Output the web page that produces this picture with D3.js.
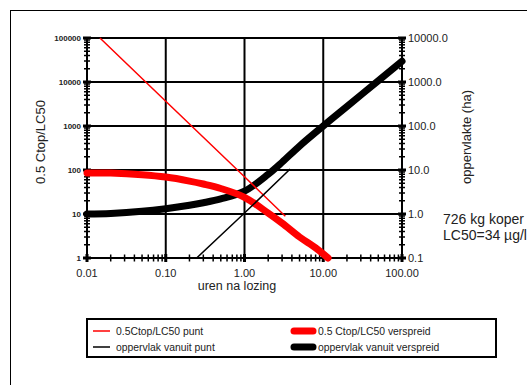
<!DOCTYPE html>
<html lang="en">
<head>
  <meta charset="UTF-8">
  <title>Chart</title>
  <style>
    body{margin: 0; background: #fff;}
    svg{display: block; font-family: Arial, "Liberation Sans", sans-serif;}
  </style>
</head>
<body>
  <div id="chart-wrapper"></div>
  <script src="https://d3js.org/d3.v7.min.js"></script>
  <script>
  // DATA
  const xTicks = [0.01, 0.1, 1, 10, 100];
  const xTickLabels = ["0.01", "0.10", "1.00", "10.00", "100.00"];
  const leftTicks = [1, 10, 100, 1000, 10000, 100000];
  const leftTickLabels = ["1", "10", "100", "1000", "10000", "100000"];
  const rightTicks = [0.1, 1, 10, 100, 1000, 10000];
  const rightTickLabels = ["0.1", "1.0", "10.0", "100.0", "1000.0", "10000.0"];

  // 0.5Ctop/LC50 punt (left axis)
  const redPuntX = [0.0146, 0.1, 1, 3.3];
  const redPuntY = [100000, 3660, 70, 8.9];
  // 0.5 Ctop/LC50 verspreid (left axis)
  const redSpreadX = [0.01, 0.02, 0.05, 0.1, 0.2, 0.3, 0.5, 1, 2, 3, 5, 8, 11.5];
  const redSpreadY = [86, 85, 78, 69, 56, 48, 38, 24, 10.5, 6.2, 3, 1.7, 1];
  // oppervlak vanuit punt (right axis)
  const blackPuntX = [0.247, 1, 3.8];
  const blackPuntY = [0.1, 1.05, 10.5];
  // oppervlak vanuit verspreid (right axis)
  const blackSpreadX = [0.01, 0.02, 0.05, 0.1, 0.2, 0.3, 0.5, 1, 2, 3, 5, 10, 20, 50, 100];
  const blackSpreadY = [1.0, 1.03, 1.15, 1.32, 1.58, 1.8, 2.2, 3.3, 8, 15, 35, 100, 278, 1070, 2950];

  const legendNames = ["0.5Ctop/LC50 punt", "0.5 Ctop/LC50 verspreid", "oppervlak vanuit punt", "oppervlak vanuit verspreid"];
  const noteLines = ["726 kg koper", "LC50=34 µg/l"];

  // CONSTANTS
  const width = 527;
  const height = 385;
  const plot = {left: 87, right: 402, top: 38, bottom: 258};
  const cred = "#ff0000";
  const cdark = "#000000";
  const ctext = "#222222";

  const svg = d3.select("#chart-wrapper").append("svg")
    .attr("width", width)
    .attr("height", height);

  // outer frame (runs off the right and bottom)
  svg.append("rect")
    .attr("x", 10.5).attr("y", 10.5)
    .attr("width", 600).attr("height", 500)
    .attr("fill", "none").attr("stroke", cdark).attr("stroke-width", 1);

  // SCALES
  const x = d3.scaleLog().domain([0.01, 100]).range([plot.left, plot.right]);
  const yL = d3.scaleLog().domain([1, 100000]).range([plot.bottom, plot.top]);
  const yR = d3.scaleLog().domain([0.1, 10000]).range([plot.bottom, plot.top]);

  // GRID
  const grid = svg.append("g").attr("stroke", cdark).attr("stroke-width", 2);
  grid.selectAll(".gx").data(xTicks).join("line")
    .attr("x1", d => x(d)).attr("x2", d => x(d))
    .attr("y1", plot.top).attr("y2", plot.bottom);
  grid.selectAll(".gy").data(leftTicks).join("line")
    .attr("x1", plot.left).attr("x2", plot.right)
    .attr("y1", d => yL(d)).attr("y2", d => yL(d));

  // MINOR TICKS
  function minors(lo, hi) {
    const out = [];
    for (let p = lo; p < hi; p *= 10) for (let k = 2; k <= 9; k++) out.push(p * k);
    return out;
  }
  const ticks = svg.append("g").attr("stroke", cdark).attr("stroke-width", 1.5);
  ticks.selectAll(".tx").data(minors(0.01, 100)).join("line")
    .attr("x1", d => x(d)).attr("x2", d => x(d))
    .attr("y1", plot.bottom - 3.5).attr("y2", plot.bottom + 3.5);
  ticks.selectAll(".tl").data(minors(1, 100000)).join("line")
    .attr("x1", plot.left - 3).attr("x2", plot.left + 3)
    .attr("y1", d => yL(d)).attr("y2", d => yL(d));
  ticks.selectAll(".tr").data(minors(0.1, 10000)).join("line")
    .attr("x1", plot.right - 3).attr("x2", plot.right + 3)
    .attr("y1", d => yR(d)).attr("y2", d => yR(d));
  // major ticks
  const major = svg.append("g").attr("stroke", cdark).attr("stroke-width", 3);
  major.selectAll(".ml").data(leftTicks).join("line")
    .attr("x1", plot.left - 4).attr("x2", plot.left + 4)
    .attr("y1", d => yL(d)).attr("y2", d => yL(d));
  major.selectAll(".mr").data(rightTicks).join("line")
    .attr("x1", plot.right - 4).attr("x2", plot.right + 4)
    .attr("y1", d => yR(d)).attr("y2", d => yR(d));
  major.selectAll(".mx").data(xTicks).join("line")
    .attr("x1", d => x(d)).attr("x2", d => x(d))
    .attr("y1", plot.bottom - 4).attr("y2", plot.bottom + 4);

  // TICK LABELS
  svg.append("g").attr("font-size", 8).attr("font-weight", "bold").attr("fill", ctext)
    .attr("text-anchor", "end")
    .selectAll("text").data(leftTicks).join("text")
    .attr("x", plot.left - 6).attr("y", d => yL(d) + 3)
    .text((d, i) => leftTickLabels[i]);
  svg.append("g").attr("font-size", 11).attr("fill", ctext)
    .selectAll("text").data(rightTicks).join("text")
    .attr("x", plot.right + 6).attr("y", d => yR(d) + 4)
    .text((d, i) => rightTickLabels[i]);
  svg.append("g").attr("font-size", 11).attr("fill", ctext)
    .attr("text-anchor", "middle")
    .selectAll("text").data(xTicks).join("text")
    .attr("x", d => x(d)).attr("y", 277)
    .text((d, i) => xTickLabels[i]);

  // AXIS TITLES
  svg.append("text").attr("font-size", 13).attr("fill", ctext)
    .attr("text-anchor", "middle")
    .attr("transform", "translate(45,142) rotate(-90)")
    .text("0.5 Ctop/LC50");
  svg.append("text").attr("font-size", 13).attr("fill", ctext)
    .attr("text-anchor", "middle")
    .attr("transform", "translate(471,137) rotate(-90)")
    .text("oppervlakte (ha)");
  svg.append("text").attr("font-size", 12.5).attr("fill", ctext)
    .attr("text-anchor", "middle")
    .attr("x", 237).attr("y", 290)
    .text("uren na lozing");

  // NOTE
  svg.append("g").attr("font-size", 14).attr("fill", ctext)
    .selectAll("text").data(noteLines).join("text")
    .attr("x", 443).attr("y", (d, i) => 224 + i * 16)
    .text(d => d);

  // AXIS LINES
  svg.append("path")
    .attr("d", `M${plot.left},${plot.top}V${plot.bottom}H${plot.right}V${plot.top}`)
    .attr("fill", "none").attr("stroke", cdark).attr("stroke-width", 2);

  // SERIES
  const zip = (xs, ys) => xs.map((v, i) => [v, ys[i]]);
  const lineL = d3.line().x(d => x(d[0])).y(d => yL(d[1])).curve(d3.curveCatmullRom.alpha(0.5));
  const lineR = d3.line().x(d => x(d[0])).y(d => yR(d[1])).curve(d3.curveCatmullRom.alpha(0.5));
  const straightL = d3.line().x(d => x(d[0])).y(d => yL(d[1]));
  const straightR = d3.line().x(d => x(d[0])).y(d => yR(d[1]));

  svg.append("path").datum(zip(blackSpreadX, blackSpreadY))
    .attr("d", lineR).attr("fill", "none").attr("stroke", cdark)
    .attr("stroke-width", 7).attr("stroke-linecap", "round").attr("stroke-linejoin", "round");
  svg.append("path").datum(zip(redSpreadX, redSpreadY))
    .attr("d", lineL).attr("fill", "none").attr("stroke", cred)
    .attr("stroke-width", 7).attr("stroke-linecap", "round").attr("stroke-linejoin", "round");
  svg.append("path").datum(zip(redPuntX, redPuntY))
    .attr("d", straightL).attr("fill", "none").attr("stroke", cred).attr("stroke-width", 1.5);
  svg.append("path").datum(zip(blackPuntX, blackPuntY))
    .attr("d", straightR).attr("fill", "none").attr("stroke", cdark).attr("stroke-width", 1.5);

  // LEGEND
  const legend = svg.append("g");
  legend.append("rect")
    .attr("x", 87).attr("y", 319).attr("width", 409).attr("height", 38)
    .attr("fill", "#fff").attr("stroke", cdark).attr("stroke-width", 2);
  const legItems = [
    {name: legendNames[0], color: cred, w: 1.5, col: 0, row: 0},
    {name: legendNames[1], color: cred, w: 7, col: 1, row: 0},
    {name: legendNames[2], color: cdark, w: 1.5, col: 0, row: 1},
    {name: legendNames[3], color: cdark, w: 7, col: 1, row: 1}
  ];
  const colX = [[93, 110, 116], [294, 313, 318]];
  const item = legend.selectAll(".li").data(legItems).join("g");
  item.append("line")
    .attr("x1", d => colX[d.col][0]).attr("x2", d => colX[d.col][1])
    .attr("y1", d => 331 + d.row * 16).attr("y2", d => 331 + d.row * 16)
    .attr("stroke", d => d.color).attr("stroke-width", d => d.w)
    .attr("stroke-linecap", d => d.w > 2 ? "round" : "butt");
  item.append("text")
    .attr("x", d => colX[d.col][2]).attr("y", d => 335 + d.row * 16)
    .attr("font-size", 10.4).attr("fill", ctext)
    .text(d => d.name);
  </script>
</body>
</html>
